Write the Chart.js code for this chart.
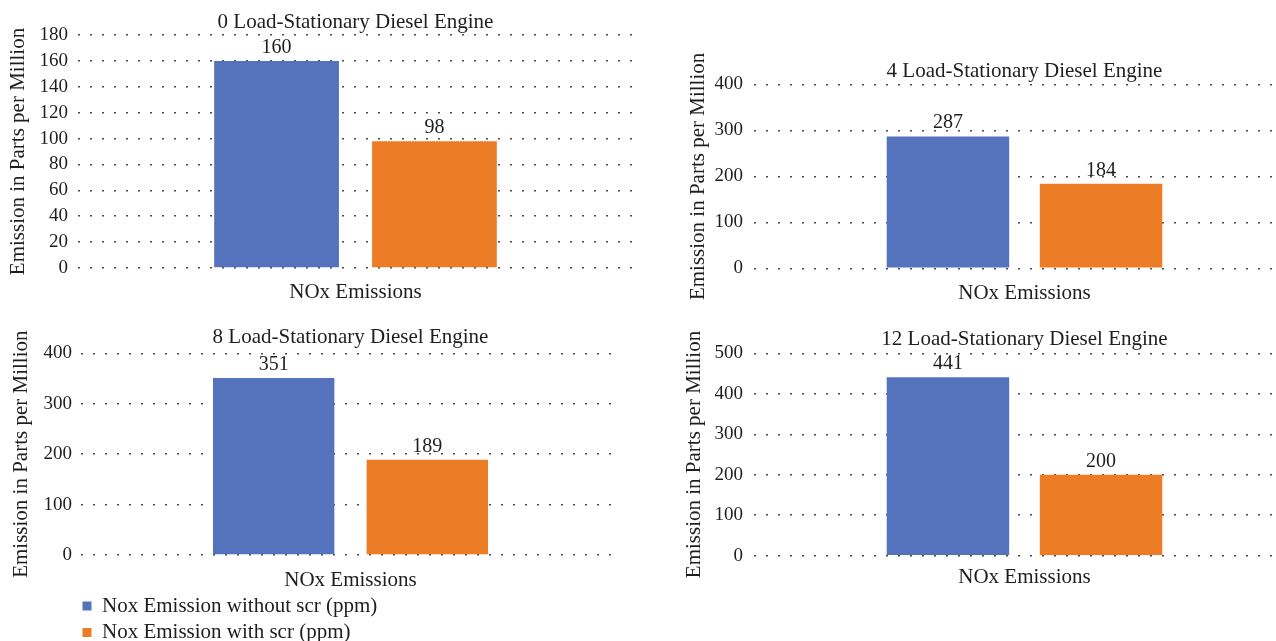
<!DOCTYPE html>
<html>
<head>
<meta charset="utf-8">
<script src="https://cdn.jsdelivr.net/npm/chart.js@4.4.1/dist/chart.umd.min.js"></script>
<style>
  html, body { margin: 0; padding: 0; background: #fff; width: 1276px; height: 641px; overflow: hidden; }
  canvas { position: absolute; }
</style>
</head>
<body>
<canvas id="p0"></canvas>
<canvas id="p1"></canvas>
<canvas id="p2"></canvas>
<canvas id="p3"></canvas>
<canvas id="legend"></canvas>
<script>
// ---- data ----
const categories = ['NOx Emissions'];
const panelTitles = [
  '0 Load-Stationary Diesel Engine',
  '4 Load-Stationary Diesel Engine',
  '8 Load-Stationary Diesel Engine',
  '12 Load-Stationary Diesel Engine'
];
const seriesNames = ['Nox Emission without scr (ppm)', 'Nox Emission with scr (ppm)'];
const withoutScr = [160, 287, 351, 441];
const withScr = [98, 184, 189, 200];
const axisMax = [180, 400, 400, 500];
const axisStep = [20, 100, 100, 100];
const yAxisTitle = 'Emission in Parts per Million';

// ---- style ----
const BLUE = '#5473BC';
const ORANGE = '#EC7C26';
const INK = '#1e1e1e';
const GRID = '#4a4a4a';
const FAMILY = "'Liberation Serif', 'Times New Roman', serif";

Chart.defaults.font.family = FAMILY;
Chart.defaults.color = INK;

// canvas boxes and spacing for the four panels
const panels = [
  { left: 0,   top: 0,   w: 640, h: 300, axisW: 78,  padRight: 7,  titleTop: 9.6,  titleBottom: 0.2, xH: 32,   xPad: 4,   yTitlePad: 5.7,  tickPad: 10, cat: 0.569, bar: 0.79 },
  { left: 640, top: 40,  w: 660, h: 260, axisW: 114, padRight: 5,  titleTop: 19.3, titleBottom: 0,   xH: 31.7, xPad: 4.3, yTitlePad: 45.4, tickPad: 11, cat: 0.566, bar: 0.8 },
  { left: 0,   top: 310, w: 640, h: 280, axisW: 81,  padRight: 20, titleTop: 15.3, titleBottom: 2.8, xH: 35,   xPad: 4.6, yTitlePad: 9,    tickPad: 9,  cat: 0.57,  bar: 0.79 },
  { left: 640, top: 310, w: 660, h: 280, axisW: 114, padRight: 5,  titleTop: 17,   titleBottom: 1.1, xH: 34.3, xPad: 1.3, yTitlePad: 41.4, tickPad: 11, cat: 0.566, bar: 0.8 }
];

// value printed above each bar
const valueLabels = {
  id: 'valueLabels',
  afterDatasetsDraw(chart) {
    const ctx = chart.ctx;
    ctx.save();
    ctx.font = '20px ' + FAMILY;
    ctx.fillStyle = INK;
    ctx.textAlign = 'center';
    ctx.textBaseline = 'alphabetic';
    chart.data.datasets.forEach((ds, i) => {
      chart.getDatasetMeta(i).data.forEach((bar, j) => {
        ctx.fillText(String(ds.data[j]), bar.x, bar.y - 8);
      });
    });
    ctx.restore();
  }
};

function place(canvas, box) {
  canvas.width = box.w;
  canvas.height = box.h;
  canvas.style.left = box.left + 'px';
  canvas.style.top = box.top + 'px';
  canvas.style.width = box.w + 'px';
  canvas.style.height = box.h + 'px';
}

panels.forEach((g, k) => {
  const canvas = document.getElementById('p' + k);
  place(canvas, g);
  new Chart(canvas, {
    type: 'bar',
    data: {
      labels: categories,
      datasets: [
        { label: seriesNames[0], data: [withoutScr[k]], backgroundColor: BLUE, categoryPercentage: g.cat, barPercentage: g.bar },
        { label: seriesNames[1], data: [withScr[k]], backgroundColor: ORANGE, categoryPercentage: g.cat, barPercentage: g.bar }
      ]
    },
    options: {
      responsive: false,
      animation: false,
      layout: { padding: { left: 0, right: g.padRight, top: 0, bottom: 0 } },
      plugins: {
        legend: { display: false },
        tooltip: { enabled: false },
        title: {
          display: true,
          text: panelTitles[k],
          fullSize: false,
          color: INK,
          font: { size: 21, weight: 'normal' },
          padding: { top: g.titleTop, bottom: g.titleBottom }
        }
      },
      scales: {
        x: {
          grid: { display: false },
          border: { display: false },
          ticks: { font: { size: 21 }, color: INK, padding: g.xPad },
          afterFit: s => { s.height = g.xH; }
        },
        y: {
          min: 0,
          max: axisMax[k],
          grid: { color: GRID, lineWidth: 1.5, drawTicks: false },
          border: { display: false, dash: [2, 10] },
          ticks: { stepSize: axisStep[k], font: { size: 19 }, color: INK, padding: g.tickPad },
          title: {
            display: true,
            text: yAxisTitle,
            color: INK,
            font: { size: 21 },
            padding: { top: g.yTitlePad, bottom: 0 }
          },
          afterFit: s => { s.width = g.axisW; }
        }
      }
    },
    plugins: [valueLabels]
  });
});

// shared series key, stacked in a column under the lower-left panel
const legendCanvas = document.getElementById('legend');
place(legendCanvas, { left: 76.5, top: 590, w: 760, h: 70 });
new Chart(legendCanvas, {
  type: 'bar',
  data: {
    labels: categories,
    datasets: [
      { label: seriesNames[0], data: [], backgroundColor: BLUE },
      { label: seriesNames[1], data: [], backgroundColor: ORANGE }
    ]
  },
  options: {
    responsive: false,
    animation: false,
    layout: { padding: 0 },
    plugins: {
      tooltip: { enabled: false },
      legend: {
        position: 'left',
        align: 'start',
        labels: { boxWidth: 9, boxHeight: 9, padding: 5.5, color: INK, font: { size: 21 } }
      }
    },
    scales: { x: { display: false }, y: { display: false } }
  }
});
</script>
</body>
</html>
